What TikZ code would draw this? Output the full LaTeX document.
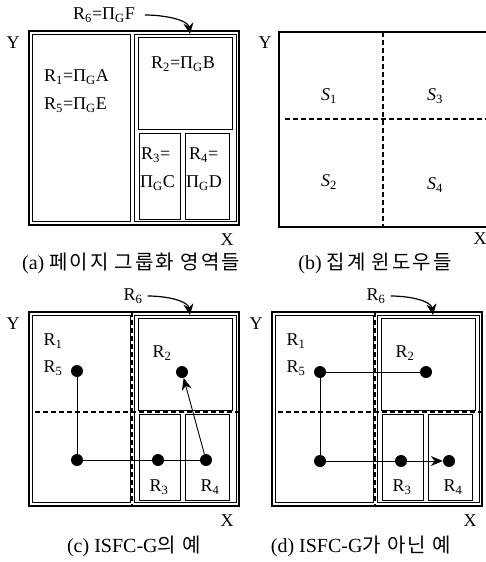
\documentclass[tikz,border=0pt]{standalone}
\usepackage{fontspec}
\setmainfont{Liberation Serif}
\newfontfamily\krfont[LetterSpace=10]{Noto Sans CJK KR}
\usetikzlibrary{arrows.meta}

\tikzset{
  frame/.style={line width=1.5pt},
  box/.style={line width=0.8pt},
  grid/.style={line width=1.2pt, dash pattern=on 5pt off 3pt},
  dot/.style={circle, fill, inner sep=0pt, minimum size=12pt},
  lbl/.style={font=\fontsize{18}{20}\selectfont, inner sep=0pt},
  captext/.style={font=\fontsize{20}{22}\selectfont, inner sep=0pt},
  link/.style={line width=0.9pt},
  pointer/.style={line width=0.9pt, -{Stealth[length=12pt,width=10pt]}},
  bendarrow/.style={line width=1.2pt, -{Stealth[length=11pt,width=10pt]}},
}

% page grouping layout, relative to the outer frame corner
\newcommand{\pagelayout}[1]{%
  \draw[frame] (0,0) rectangle (210,194);
  \draw[box] (3,3) rectangle (101,190);
  \draw[box] (105,3) rectangle (207,190);
  \draw[box] (109,6) rectangle (203,98);
  \draw[box] (110,102) rectangle (151,188);
  \draw[box] (156,102) rectangle (200,188);
  \node[lbl] (#1-y) at (-16,12) {Y};
  \node[lbl] (#1-x) at (198,209) {X};
}

\begin{document}
\begin{tikzpicture}[x=1pt,y=-1pt]
    \useasboundingbox (0,0) rectangle (486,562);

    % (a) page grouping regions
    \begin{scope}[shift={(29,31)}]
        \pagelayout{a}
    \end{scope}
    \node[lbl, anchor=west] (a-r1) at (44,77) {R\textsubscript{1}=Π\textsubscript{G}A};
    \node[lbl, anchor=west] (a-r5) at (44,105) {R\textsubscript{5}=Π\textsubscript{G}E};
    \node[lbl, anchor=west] (a-r2) at (151,64) {R\textsubscript{2}=Π\textsubscript{G}B};
    \node[lbl, anchor=west] (a-r3) at (141,155) {R\textsubscript{3}=};
    \node[lbl, anchor=west] (a-c) at (140,183) {Π\textsubscript{G}C};
    \node[lbl, anchor=west] (a-r4) at (189,155) {R\textsubscript{4}=};
    \node[lbl, anchor=west] (a-d) at (186,183) {Π\textsubscript{G}D};
    \node[lbl] (a-r6) at (104,15) {R\textsubscript{6}=Π\textsubscript{G}F};
    \coordinate (a-tip) at (190,34);
    \draw[bendarrow] ([xshift=10pt]a-r6.east) .. controls +(20,0) and +(-2,-14) .. (a-tip);
    \node[captext] (a-cap) at (131,263) {(a)\ {\krfont 페이지\ 그룹화\ 영역들}};

    % (b) aggregation windows
    \draw[frame] (486,32) -| (279,227) -- (486,227);
    \draw[grid] (383,32) -- (383,227);
    \draw[grid] (285,119) -- (486,119);
    \node[lbl] (b-y) at (265,43) {Y};
    \node[lbl] (b-x) at (480,239) {X};
    \node[lbl] (s1) at (329,96) {\textit{S}\textsubscript{1}};
    \node[lbl] (s3) at (435,96) {\textit{S}\textsubscript{3}};
    \node[lbl] (s2) at (329,182) {\textit{S}\textsubscript{2}};
    \node[lbl] (s4) at (435,185) {\textit{S}\textsubscript{4}};
    \node[captext] (b-cap) at (375,263) {(b)\ {\krfont 집계\ 윈도우들}};

    % (c) ISFC-G example
    \begin{scope}[shift={(29,312)}]
        \pagelayout{c}
        \draw[grid] (6,100) -- (210,100);
        \draw[grid] (103,0) -- (103,194);
    \end{scope}
    \node[lbl] (c-r1) at (53,341) {R\textsubscript{1}};
    \node[lbl] (c-r5) at (53,368) {R\textsubscript{5}};
    \node[lbl] (c-r2) at (162,353) {R\textsubscript{2}};
    \node[lbl] (c-r3) at (159,487) {R\textsubscript{3}};
    \node[lbl] (c-r4) at (210,487) {R\textsubscript{4}};
    \node[lbl] (c-r6) at (133,296) {R\textsubscript{6}};
    \coordinate (c-tip) at (190,315);
    \draw[bendarrow] ([xshift=5pt]c-r6.east) .. controls +(20,0) and +(-2,-14) .. (c-tip);
    \node[dot] (c5) at (77,371) {};
    \node[dot] (c2) at (182,372) {};
    \node[dot] (cb) at (77,460) {};
    \node[dot] (c3) at (158,460) {};
    \node[dot] (c4) at (206,460) {};
    \draw[link] (c5) -- (cb) -- (c3) -- (c4);
    \draw[pointer] (c4) -- (c2);
    \node[captext] (c-cap) at (134,546) {(c)\ ISFC-G{\krfont 의\ 예}};

    % (d) non ISFC-G example
    \begin{scope}[shift={(272,312)}]
        \pagelayout{d}
        \draw[grid] (6,100) -- (210,100);
        \draw[grid] (103,0) -- (103,194);
    \end{scope}
    \node[lbl] (d-r1) at (296,341) {R\textsubscript{1}};
    \node[lbl] (d-r5) at (296,368) {R\textsubscript{5}};
    \node[lbl] (d-r2) at (405,353) {R\textsubscript{2}};
    \node[lbl] (d-r3) at (402,487) {R\textsubscript{3}};
    \node[lbl] (d-r4) at (453,487) {R\textsubscript{4}};
    \node[lbl] (d-r6) at (376,296) {R\textsubscript{6}};
    \coordinate (d-tip) at (433,315);
    \draw[bendarrow] ([xshift=5pt]d-r6.east) .. controls +(20,0) and +(-2,-14) .. (d-tip);
    \node[dot] (d5) at (320,372) {};
    \node[dot] (d2) at (426,372) {};
    \node[dot] (db) at (320,461) {};
    \node[dot] (d3) at (401,461) {};
    \node[dot] (d4) at (449,461) {};
    \draw[link] (d2) -- (d5) -- (db) -- (d3);
    \draw[pointer] (d3) -- (d4);
    \node[captext] (d-cap) at (361,546) {(d)\ ISFC-G{\krfont 가\ 아닌\ 예}};
\end{tikzpicture}
\end{document}
